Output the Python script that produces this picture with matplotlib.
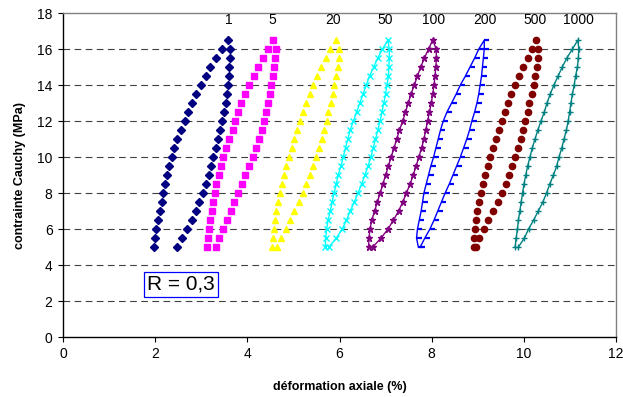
import matplotlib
matplotlib.use("Agg")
import matplotlib.pyplot as plt

plt.rcParams['font.family'] = ['Liberation Sans', 'DejaVu Sans']

# stress levels (MPa) along the loading and unloading branches
stress_load = [5.0, 5.5, 6.0, 6.5, 7.0, 7.5, 8.0, 8.5, 9.0, 9.5, 10.0, 10.5,
               11.0, 11.5, 12.0, 12.5, 13.0, 13.5, 14.0, 14.5, 15.0, 15.5, 16.0, 16.5]
stress_unload = [16.0, 15.5, 15.0, 14.5, 14.0, 13.5, 13.0, 12.5, 12.0, 11.5, 11.0, 10.5,
                 10.0, 9.5, 9.0, 8.5, 8.0, 7.5, 7.0, 6.5, 6.0, 5.5, 5.0]

# axial strain (%) read from the loops
c1_load = [1.97, 1.99, 2.02, 2.06, 2.10, 2.14, 2.18, 2.22, 2.26, 2.31, 2.36, 2.42,
           2.48, 2.56, 2.64, 2.72, 2.80, 2.89, 2.99, 3.10, 3.20, 3.32, 3.45, 3.59]
c1_unload = [3.63, 3.62, 3.61, 3.60, 3.58, 3.55, 3.53, 3.49, 3.46, 3.41, 3.36, 3.31,
             3.26, 3.21, 3.16, 3.10, 3.03, 2.96, 2.88, 2.80, 2.70, 2.58, 2.48]

c5_load = [3.12, 3.14, 3.17, 3.20, 3.23, 3.26, 3.29, 3.33, 3.38, 3.43, 3.48, 3.54,
           3.61, 3.68, 3.74, 3.79, 3.86, 3.94, 4.04, 4.14, 4.24, 4.34, 4.44, 4.55]
c5_unload = [4.62, 4.61, 4.58, 4.55, 4.52, 4.49, 4.45, 4.41, 4.36, 4.31, 4.25, 4.19,
             4.12, 4.04, 3.96, 3.88, 3.80, 3.72, 3.64, 3.56, 3.47, 3.39, 3.31]

c20_load = [4.54, 4.55, 4.57, 4.60, 4.63, 4.67, 4.71, 4.75, 4.79, 4.84, 4.90, 4.96,
            5.01, 5.08, 5.15, 5.21, 5.28, 5.35, 5.42, 5.51, 5.60, 5.70, 5.80, 5.92]
c20_unload = [5.99, 5.98, 5.96, 5.93, 5.89, 5.85, 5.81, 5.76, 5.72, 5.67, 5.61, 5.55,
              5.49, 5.42, 5.35, 5.28, 5.21, 5.12, 5.02, 4.93, 4.83, 4.73, 4.64]

c50_load = [5.69, 5.70, 5.72, 5.75, 5.80, 5.84, 5.88, 5.93, 5.97, 6.03, 6.08, 6.13,
            6.18, 6.23, 6.30, 6.37, 6.44, 6.51, 6.58, 6.65, 6.74, 6.83, 6.93, 7.05]
c50_unload = [7.08, 7.08, 7.07, 7.06, 7.03, 7.00, 6.96, 6.92, 6.88, 6.83, 6.78, 6.73,
              6.68, 6.62, 6.55, 6.48, 6.40, 6.32, 6.23, 6.15, 6.06, 5.93, 5.77]

c100_load = [6.63, 6.64, 6.66, 6.70, 6.76, 6.82, 6.88, 6.94, 7.00, 7.06, 7.12, 7.18,
             7.24, 7.30, 7.37, 7.43, 7.49, 7.55, 7.62, 7.69, 7.76, 7.84, 7.93, 8.02]
c100_unload = [8.10, 8.10, 8.09, 8.07, 8.05, 8.02, 7.99, 7.95, 7.91, 7.87, 7.83, 7.78,
               7.72, 7.66, 7.60, 7.53, 7.45, 7.37, 7.28, 7.17, 7.05, 6.90, 6.72]

c200_load = [7.71, 7.67, 7.69, 7.73, 7.77, 7.80, 7.83, 7.88, 7.93, 7.98, 8.04, 8.09,
             8.14, 8.19, 8.25, 8.33, 8.43, 8.53, 8.62, 8.73, 8.83, 8.93, 9.02, 9.14]
c200_unload = [9.14, 9.12, 9.10, 9.08, 9.05, 9.02, 8.98, 8.93, 8.87, 8.82, 8.76, 8.69,
               8.62, 8.54, 8.46, 8.38, 8.29, 8.21, 8.13, 8.05, 7.96, 7.85, 7.75]

c500_load = [8.92, 8.92, 8.93, 8.96, 8.99, 9.03, 9.07, 9.11, 9.16, 9.21, 9.27, 9.33,
             9.39, 9.46, 9.52, 9.59, 9.66, 9.72, 9.80, 9.89, 9.97, 10.08, 10.18, 10.27]
c500_unload = [10.31, 10.30, 10.28, 10.25, 10.22, 10.18, 10.12, 10.08, 10.03, 9.98, 9.93, 9.87,
               9.81, 9.75, 9.67, 9.60, 9.52, 9.43, 9.33, 9.23, 9.13, 9.03, 8.96]

c1000_load = [9.81, 9.83, 9.86, 9.88, 9.91, 9.94, 9.97, 10.00, 10.04, 10.08, 10.13, 10.18,
              10.24, 10.30, 10.37, 10.44, 10.50, 10.57, 10.65, 10.74, 10.83, 10.93, 11.05, 11.17]
c1000_unload = [11.19, 11.18, 11.16, 11.12, 11.09, 11.05, 11.02, 10.99, 10.96, 10.92, 10.87, 10.82,
                10.76, 10.71, 10.64, 10.56, 10.49, 10.41, 10.31, 10.21, 10.10, 10.01, 9.88]

cycle_labels = ['1', '5', '20', '50', '100', '200', '500', '1000']
label_x = [3.6, 4.55, 5.85, 7.0, 8.03, 9.16, 10.25, 11.18]
label_y = 17.6

loops = [(c1_load, c1_unload), (c5_load, c5_unload), (c20_load, c20_unload),
         (c50_load, c50_unload), (c100_load, c100_unload), (c200_load, c200_unload),
         (c500_load, c500_unload), (c1000_load, c1000_unload)]

# Excel style "dash" marker, drawn to the right of the point
dash = [(0, 0), (1, 0)]

# marker, colour, line style, marker size, marker edge width
styles = [('D', '#000080', 'none', 4.0, 1.0),
          ('s', '#FF00FF', 'none', 4.5, 1.0),
          ('^', '#FFFF00', 'none', 4.5, 1.0),
          ('x', '#00FFFF', '-', 4.5, 1.0),
          ('*', '#800080', '-', 5.0, 1.0),
          (dash, '#0000FF', '-', 7.0, 1.6),
          ('o', '#800000', 'none', 4.5, 1.0),
          ('+', '#008080', '-', 5.0, 1.0)]

fig = plt.figure(figsize=(6.23, 3.97), dpi=100)
ax = fig.add_axes([0.101, 0.151, 0.888, 0.816])

for (xl, xu), (mk, col, ls, ms, mew) in zip(loops, styles):
    xs = xl + xu
    ys = stress_load + stress_unload
    ax.plot(xs, ys, linestyle=ls, linewidth=1.0, color=col, marker=mk,
            markersize=ms, markeredgecolor=col, markerfacecolor=col,
            markeredgewidth=mew)

for lab, lx in zip(cycle_labels, label_x):
    ax.text(lx, label_y, lab, ha='center', va='center', fontsize=10)

ax.text(2.56, 2.94, 'R = 0,3', ha='center', va='center', fontsize=15,
        bbox=dict(boxstyle='square,pad=0.15', facecolor='white',
                  edgecolor='#0000FF', linewidth=0.9))

ax.set_xlim(0, 12)
ax.set_ylim(0, 18)
ax.set_xticks(range(0, 13, 2))
ax.set_yticks(range(0, 19, 2))
ax.tick_params(direction='out', length=3.5, width=0.8, labelsize=10, pad=4)

ax.yaxis.grid(True, linestyle=(0, (6, 4)), color='#404040', linewidth=0.8)
gl = ax.get_ygridlines()
gl[0].set_visible(False)
gl[-1].set_visible(False)
ax.set_axisbelow(True)

for side in ['left', 'bottom']:
    ax.spines[side].set_color('black')
    ax.spines[side].set_linewidth(1.0)
for side in ['top', 'right']:
    ax.spines[side].set_color('#808080')
    ax.spines[side].set_linewidth(1.0)

ax.set_xlabel('déformation axiale (%)', fontsize=9, fontweight='bold', labelpad=14)
ax.set_ylabel('contrainte Cauchy (MPa)', fontsize=9, fontweight='bold', labelpad=8)

fig.savefig('out.png', dpi=100)
